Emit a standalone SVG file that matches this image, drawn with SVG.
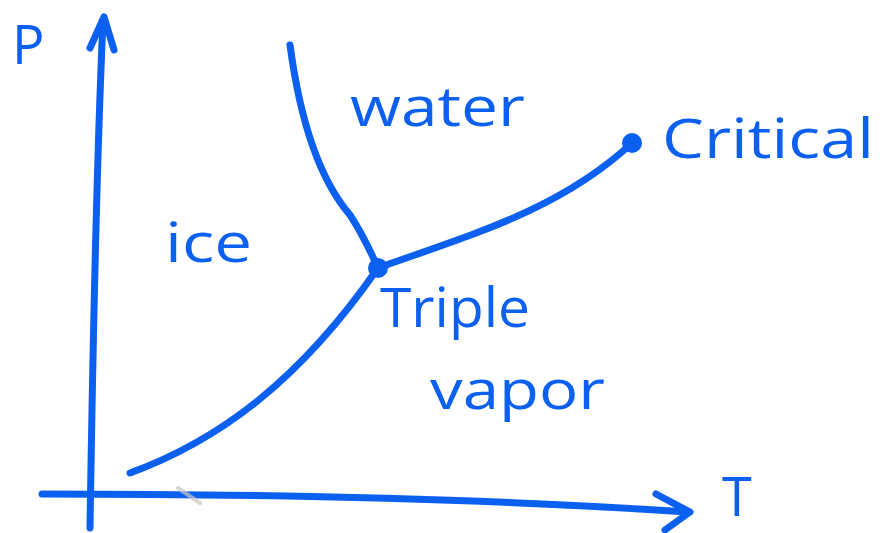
<svg xmlns="http://www.w3.org/2000/svg" width="883" height="533" viewBox="0 0 883 533">
<style>
.ln{fill:none;stroke:#0b60f0;stroke-width:7;stroke-linecap:round;stroke-linejoin:round}
.lbl{font-family:"Open Sans","DejaVu Sans",sans-serif;fill:#0b60f0;font-size:54px}
.dot{fill:#0b60f0}
</style>
<rect width="883" height="533" fill="#fff"/>
<g id="connectors">
<path class="ln" d="M90,528 C92,400 95,200 103,20"/>
<path class="ln" d="M90,48 L104,17 L114,50"/>
<path class="ln" d="M42,494 C200,494 450,496 688,512"/>
<path class="ln" d="M656,494 L690,512 L665,530"/>
<path class="ln" d="M130,473 C220,440 300,380 378,268"/>
<path class="ln" d="M378,268 C470,235 560,210 632,143"/>
<path class="ln" d="M290,45 C300,120 320,180 350,215 C365,238 372,255 378,268"/>
<path d="M178,488 L200,503" stroke="#c8c8c8" stroke-width="4" stroke-linecap="round" opacity="0.7"/>
</g>
<g id="triple-point"><circle class="dot" cx="378" cy="268" r="10"/><text class="lbl" x="380" y="327" textLength="150" lengthAdjust="spacingAndGlyphs">Triple</text></g>
<g id="critical-point"><circle class="dot" cx="632" cy="143" r="10"/><text class="lbl" x="662" y="158" textLength="212" lengthAdjust="spacingAndGlyphs">Critical</text></g>
<g id="water"><text class="lbl" x="350" y="126" textLength="175" lengthAdjust="spacingAndGlyphs">water</text></g>
<g id="ice"><text class="lbl" x="165" y="262" textLength="87" lengthAdjust="spacingAndGlyphs">ice</text></g>
<g id="vapor"><text class="lbl" x="430" y="409" textLength="175" lengthAdjust="spacingAndGlyphs">vapor</text></g>
<g id="p-label"><text class="lbl" x="12" y="64" font-size="60">P</text></g>
<g id="t-label"><text class="lbl" x="722" y="516" font-size="44">T</text></g>
</svg>
